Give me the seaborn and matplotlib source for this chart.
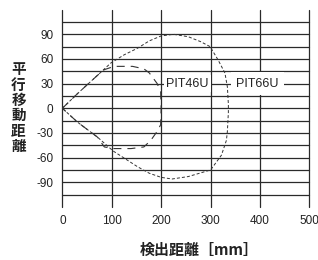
import matplotlib
matplotlib.use('Agg')
import matplotlib.pyplot as plt
import seaborn as sns
import numpy as np

# outer curve PIT66U (upper half then lower half)
pit66_x = [0, 31, 71, 98, 125, 152, 176, 200, 225, 255, 280, 299, 315, 329, 334, 336,
           336, 334, 332, 322, 300, 255, 222, 200, 176, 152, 103, 71, 31, 0]
pit66_y = [0, 18, 40, 55, 65, 73, 82, 88, 90, 87, 81, 75, 59, 43, 26, 5,
           -5, -28, -39, -57, -75, -83, -86, -84, -79, -71, -52, -35, -17, 0]

# inner curve PIT46U
pit46_x = [0, 31, 71, 85, 105, 142, 165, 176, 192, 199, 200,
           199, 192, 179, 165, 139, 105, 85, 71, 31, 0]
pit46_y = [0, 18, 40, 47, 51, 51, 48, 43, 30, 20, 0,
           -20, -28, -39, -47, -49, -49, -47, -35, -17, 0]

x_ticks = [0, 100, 200, 300, 400, 500]
y_grid = [-105, -90, -75, -60, -45, -30, -15, 0, 15, 30, 45, 60, 75, 90, 105]
y_labels = ['', '-90', '', '-60', '', '-30', '', '0', '', '30', '', '60', '', '90', '']

sns.set_style('white')
plt.rcParams['font.family'] = ['Liberation Sans', 'DejaVu Sans']
cjk = ['Noto Sans CJK JP', 'DejaVu Sans']

fig = plt.figure(figsize=(3.18, 2.6), dpi=100)
ax = fig.add_axes([0.196, 0.204, 0.777, 0.759])

line_col = '#333333'
sns.lineplot(x=pit66_x, y=pit66_y, sort=False, ax=ax, color=line_col,
             lw=0.7, linestyle=(0, (3.1, 2.1)), estimator=None)
sns.lineplot(x=pit46_x, y=pit46_y, sort=False, ax=ax, color=line_col,
             lw=0.8, linestyle=(0, (7.2, 5.4)), estimator=None)

ax.set_xlim(0, 500)
ax.set_ylim(-120, 120)
ax.set_xticks(x_ticks)
ax.set_xticklabels([str(v) for v in x_ticks])
ax.set_yticks(y_grid)
ax.set_yticklabels(y_labels)
ax.tick_params(length=0, labelsize=8.5, colors='#222222')
ax.tick_params(axis='y', pad=6.5)
ax.tick_params(axis='x', pad=6)
ax.grid(True, color='#2a2a2a', lw=0.9)
for gl in ax.get_xgridlines() + ax.get_ygridlines():
    gl.set_clip_on(False)
for s in ax.spines.values():
    s.set_visible(False)

ax.text(253, 30, 'PIT46U', ha='center', va='center', fontsize=9, color='#222222',
        bbox=dict(fc='white', ec='none', pad=1.5))
ax.text(395, 30, 'PIT66U', ha='center', va='center', fontsize=9, color='#222222',
        bbox=dict(fc='white', ec='none', pad=4))

fig.text(18.5 / 318, 1 - 107.5 / 260, '\n'.join('平行移動距離'), family=cjk,
         fontsize=10.5, fontweight='bold', ha='center', va='center',
         linespacing=0.95, color='#222222')
fig.text(199.5 / 318, 1 - 250 / 260, '検出距離［mm］', family=cjk,
         fontsize=10.8, fontweight='bold', ha='center', va='center', color='#222222')

fig.savefig('out.png', dpi=100)
